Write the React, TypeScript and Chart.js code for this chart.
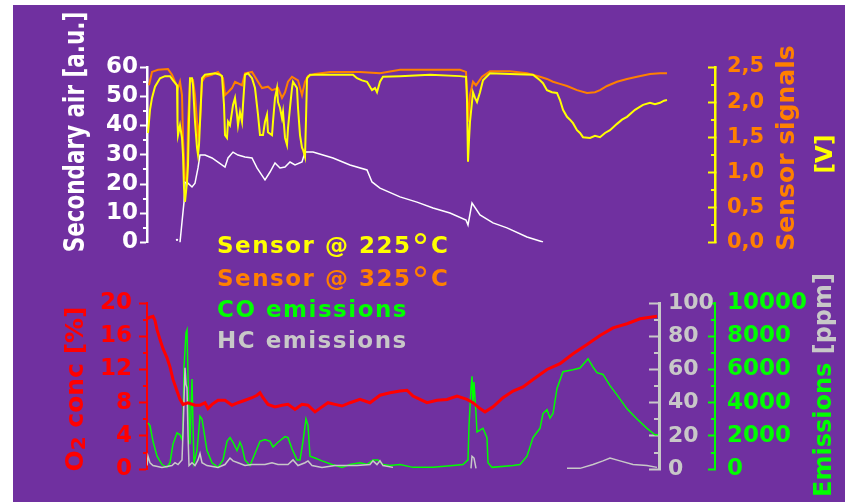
import { useEffect, useRef } from "react";
import { Chart, registerables } from "chart.js";

Chart.register(...registerables);

// ---------------- data (time in s, values in axis units) ----------------
const secondaryAir: [number, number | null][] = [
  [30, 0.9], [31, null], [33, 0], [35, 7.0], [37, 13.8], [38, 20.7], [41, 20.3], [45, 19.0], [48, 20.3],
  [51, 25.5], [53, 29.9], [58, 29.9], [65, 28.9], [71, 27.5], [78, 25.8], [81, 28.9], [86, 30.9],
  [91, 29.9], [98, 29.2], [105, 28.9], [110, 25.5], [118, 21.4], [123, 24.1], [128, 27.2], [133, 25.5],
  [138, 25.8], [143, 27.5], [148, 26.5], [155, 27.5], [158, 30.9], [166, 30.9], [186, 28.9], [203, 26.5],
  [220, 24.8], [225, 20.7], [233, 18.6], [253, 15.6], [270, 13.8], [286, 11.8], [303, 10.1], [319, 7.7],
  [321, 6.0], [325, 13.5], [333, 9.4], [346, 6.7], [360, 5.0], [380, 1.9], [396, 0.2],
];

const sensor225: [number, number][] = [
  [1, 1.56], [3, 1.89], [5, 2.06], [8, 2.22], [13, 2.34], [18, 2.37], [23, 2.37], [26, 2.31], [30, 2.24],
  [30.5, 1.72], [31, 1.53], [33, 1.67], [35, 1.49], [36, 1.25], [37, 0.78], [38, 0.58], [40, 0.86],
  [41, 1.10], [42, 1.75], [43, 2.34], [45, 2.34], [46, 2.24], [48, 1.72], [50, 1.35], [51, 1.25],
  [52, 1.39], [54, 2.03], [55, 2.34], [58, 2.39], [63, 2.40], [68, 2.41], [73, 2.39], [75, 2.37],
  [77, 1.96], [78, 1.53], [80, 1.49], [81, 1.72], [83, 1.67], [85, 1.86], [86, 1.96], [88, 2.06],
  [90, 1.82], [91, 1.67], [93, 1.86], [95, 1.72], [96, 1.96], [98, 2.39], [101, 2.41], [105, 2.34],
  [108, 2.20], [111, 1.82], [113, 1.53], [116, 1.53], [118, 1.72], [120, 1.82], [121, 1.57], [125, 1.53],
  [126, 1.72], [128, 2.06], [130, 2.20], [131, 2.00], [133, 1.92], [135, 1.77], [136, 1.86], [138, 1.49],
  [140, 1.39], [141, 1.63], [143, 1.92], [145, 2.20], [146, 2.29], [150, 2.20], [151, 1.92], [153, 1.53],
  [155, 1.35], [156, 1.32], [158, 1.22], [159, 1.75], [160, 2.34], [163, 2.39], [183, 2.39], [206, 2.39],
  [210, 2.34], [215, 2.31], [220, 2.29], [225, 2.17], [228, 2.20], [230, 2.14], [233, 2.29], [236, 2.36],
  [253, 2.37], [283, 2.39], [313, 2.37], [319, 2.36], [320, 2.03], [321, 1.15], [322, 1.46], [323, 1.72],
  [326, 2.14], [328, 2.06], [330, 2.00], [333, 2.14], [336, 2.31], [343, 2.41], [363, 2.40], [386, 2.39],
  [393, 2.31], [396, 2.27], [400, 2.17], [405, 2.14], [410, 2.13], [413, 2.03], [416, 1.89], [420, 1.79],
  [423, 1.75], [426, 1.70], [430, 1.60], [433, 1.56], [436, 1.50], [443, 1.49], [448, 1.52], [453, 1.50],
  [458, 1.56], [463, 1.60], [470, 1.69], [475, 1.75], [480, 1.79], [488, 1.89], [496, 1.96], [503, 1.99],
  [508, 1.97], [513, 1.99], [517, 2.02], [520, 2.03],
];

const sensor325: [number, number][] = [
  [2, 2.24], [5, 2.43], [11, 2.46], [21, 2.47], [25, 2.39], [28, 2.29], [31, 2.20], [33, 2.29], [35, 2.10],
  [36, 1.49], [38, 0.92], [40, 0.86], [41, 1.72], [43, 2.29], [46, 2.31], [48, 2.10], [51, 1.53], [53, 1.72],
  [55, 2.29], [58, 2.36], [65, 2.39], [71, 2.43], [76, 2.34], [78, 2.10], [81, 2.14], [85, 2.20], [88, 2.29],
  [95, 2.24], [98, 2.41], [105, 2.43], [111, 2.29], [115, 2.20], [121, 2.22], [125, 2.17], [131, 2.20],
  [135, 2.06], [138, 2.14], [141, 2.29], [145, 2.36], [151, 2.31], [155, 2.10], [158, 2.29], [161, 2.37],
  [168, 2.40], [183, 2.43], [213, 2.43], [233, 2.41], [253, 2.46], [283, 2.46], [313, 2.46], [319, 2.43],
  [320, 2.17], [321, 1.72], [323, 2.10], [326, 2.29], [329, 2.24], [335, 2.36], [343, 2.44], [363, 2.44],
  [380, 2.41], [393, 2.36], [400, 2.33], [406, 2.29], [413, 2.26], [420, 2.23], [430, 2.17], [440, 2.13],
  [448, 2.14], [453, 2.17], [460, 2.23], [470, 2.29], [480, 2.33], [490, 2.36], [503, 2.40], [513, 2.41],
  [520, 2.41],
];

const o2Conc: [number, number][] = [
  [0, 18.1], [3, 18.3], [6, 18.4], [8, 17.9], [10, 16.8], [13, 15.6], [16, 14.5], [20, 13.4], [23, 12.3],
  [26, 10.8], [30, 9.4], [33, 8.4], [36, 7.8], [41, 8.0], [48, 7.7], [53, 7.7], [58, 8.0], [61, 7.3],
  [65, 7.8], [71, 8.3], [78, 8.3], [85, 7.7], [91, 8.0], [98, 8.3], [105, 8.6], [110, 8.9], [113, 9.2],
  [116, 8.6], [121, 7.8], [128, 7.5], [135, 7.7], [141, 7.8], [148, 7.2], [155, 7.8], [161, 7.7], [168, 6.9],
  [175, 7.5], [181, 8.0], [188, 7.8], [195, 7.6], [203, 8.0], [213, 8.4], [223, 8.0], [233, 8.9], [243, 9.2],
  [253, 9.4], [260, 9.5], [266, 8.8], [273, 8.4], [280, 8.0], [290, 8.3], [300, 8.4], [310, 8.8], [320, 8.4],
  [326, 8.0], [333, 7.3], [338, 6.9], [346, 7.5], [356, 8.6], [366, 9.4], [376, 9.9], [386, 10.8],
  [400, 12.0], [413, 12.7], [426, 13.9], [440, 15.0], [453, 16.1], [466, 17.0], [480, 17.5], [493, 18.1],
  [510, 18.4],
];

const coEmissions: [number, number][] = [
  [1, 2790], [3, 2630], [6, 1680], [10, 780], [15, 280], [20, 110], [23, 390], [26, 1510], [30, 2180],
  [33, 2070], [35, 1790], [36, 2460], [37, 6150], [39, 8210], [40, 8380], [41, 5590], [43, 1510], [45, 5420],
  [46, 2630], [47, 390], [50, 1120], [53, 3180], [55, 3020], [56, 2630], [60, 1120], [65, 390], [71, 110],
  [76, 560], [80, 1680], [83, 1900], [86, 1620], [90, 1120], [93, 1620], [95, 1340], [98, 560], [103, 220],
  [108, 950], [113, 1680], [118, 1790], [123, 1680], [126, 1340], [131, 1620], [138, 1960], [141, 1900],
  [145, 1230], [150, 560], [153, 560], [156, 1680], [159, 3020], [161, 2630], [163, 780], [168, 670],
  [175, 500], [185, 280], [195, 110], [203, 280], [213, 390], [220, 280], [226, 560], [231, 560], [236, 280],
  [243, 220], [253, 280], [266, 110], [286, 110], [306, 220], [316, 280], [321, 560], [322, 2630],
  [324, 4860], [325, 5590], [326, 3910], [327, 5250], [329, 3350], [330, 2240], [333, 2350], [336, 2460],
  [340, 1900], [341, 390], [345, 110], [366, 220], [373, 280], [380, 780], [386, 1900], [393, 2460],
  [396, 3350], [400, 3580], [403, 3070], [406, 3350], [410, 4860], [416, 5870], [426, 5980], [433, 6090],
  [441, 6650], [446, 6150], [450, 5810], [456, 5700], [463, 5030], [470, 4470], [480, 3630], [490, 3020],
  [500, 2460], [508, 2070], [511, 2070],
];

const hcEmissions: [number, number | null][] = [
  [0, 2.2], [1, 7.8], [3, 3.9], [6, 2.2], [15, 1.1], [25, 2.2], [28, 3.9], [31, 2.8], [35, 5.6], [36, 22],
  [38, 61], [39, 51], [40, 49], [41, 21], [42, 2.2], [45, 3.9], [48, 2.2], [51, 5.6], [53, 9.5], [55, 3.9],
  [60, 2.2], [71, 1.1], [78, 2.8], [83, 6.7], [86, 5.0], [91, 3.9], [98, 2.2], [105, 2.8], [118, 2.8],
  [125, 3.9], [131, 2.8], [141, 2.8], [146, 5.6], [151, 2.2], [158, 3.9], [161, 5.0], [165, 2.2], [175, 1.1],
  [188, 2.2], [198, 2.2], [210, 2.2], [223, 2.8], [226, 5.0], [230, 2.8], [233, 5.0], [236, 2.2], [246, 1.1],
  [247, null], [324, 0.5], [325, 7.8], [327, 6.7], [329, 0.5], [330, null], [420, 0.5], [433, 0.5],
  [446, 2.8], [456, 5.0], [463, 6.7], [473, 5.0], [486, 2.8], [500, 2.2], [510, 1.1],
];

const legendLabels = ["Sensor @ 225°C", "Sensor @ 325°C", "CO emissions", "HC emissions"];
const airTicks = { min: 0, max: 60, step: 10 };
const sensorTicks = { min: 0, max: 2.5, step: 0.5 };
const o2Ticks = { min: 0, max: 20, step: 4 };
const hcTicks = { min: 0, max: 100, step: 20 };
const coTicks = { min: 0, max: 10000, step: 2000 };

// ---------------- styles ----------------
const FONT = "'DejaVu Sans', Verdana, sans-serif";
const PURPLE = "#7030A0";
const YELLOW = "#FFFF00";
const ORANGE = "#FF8000";
const WHITE = "#FFFFFF";
const RED = "#FF0000";
const GREEN = "#00FF00";
const GRAY = "#C8C8C8";
const W = 832;
const H = 497;

const pts = (a: [number, number | null][]) => a.map(([x, y]) => ({ x, y }));

type Seg = { text: string; color: string; size: number; dy?: number };
type TitleItem = { cx: number; cy: number; segs: Seg[]; sx?: number };

const titlesPlugin = (id: string, items: TitleItem[]) => ({
  id,
  afterDraw(chart: any) {
    const ctx = chart.ctx;
    for (const it of items) {
      ctx.save();
      ctx.translate(it.cx, it.cy);
      ctx.scale(it.sx ?? 1, 1);
      ctx.rotate(-Math.PI / 2);
      ctx.textBaseline = "middle";
      ctx.textAlign = "left";
      let total = 0;
      const widths = it.segs.map((s) => {
        ctx.font = `bold ${s.size}px ${FONT}`;
        const w = ctx.measureText(s.text).width;
        total += w;
        return w;
      });
      let x = -total / 2;
      it.segs.forEach((s, i) => {
        ctx.font = `bold ${s.size}px ${FONT}`;
        ctx.fillStyle = s.color;
        ctx.fillText(s.text, x, s.dy ?? 0);
        x += widths[i];
      });
      ctx.restore();
    }
  },
});

type Minor = { id: string; side: "left" | "right"; step: number; len: number; color: string; width: number };
const minorPlugin = (id: string, items: Minor[]) => ({
  id,
  afterDraw(chart: any) {
    const ctx = chart.ctx;
    for (const m of items) {
      const s = chart.scales[m.id];
      const x0 = m.side === "left" ? s.right : s.left;
      const n = Math.round((s.max - s.min) / m.step);
      ctx.save();
      ctx.strokeStyle = m.color;
      ctx.lineWidth = m.width;
      for (let i = 1; i < n; i += 2) {
        const y = Math.round(s.getPixelForValue(s.min + i * m.step));
        ctx.beginPath();
        ctx.moveTo(x0, y);
        ctx.lineTo(x0 - m.len, y);
        ctx.stroke();
      }
      ctx.restore();
    }
  },
});

const yAxis = (o: {
  pos: "left" | "right";
  t: { min: number; max: number; step: number };
  color: string;
  labelColor: string;
  size: number;
  tick: number;
  pad: number;
  width: number;
  border: number;
  weight?: number;
  fmt?: (v: number) => string;
}) => ({
  type: "linear",
  position: o.pos,
  min: o.t.min,
  max: o.t.max,
  weight: o.weight ?? 0,
  afterFit: (s: any) => {
    s.width = o.width;
  },
  ticks: {
    stepSize: o.t.step,
    autoSkip: false,
    color: o.labelColor,
    padding: o.pad,
    font: { family: FONT, size: o.size, weight: "bold" },
    callback: o.fmt ? (v: any) => o.fmt!(Number(v)) : (v: any) => String(v),
  },
  grid: { drawOnChartArea: false, drawTicks: true, tickLength: o.tick, color: o.color, tickWidth: 2 },
  border: { display: true, color: o.color, width: o.border },
});

export default function App() {
  const topRef = useRef<HTMLCanvasElement>(null);
  const botRef = useRef<HTMLCanvasElement>(null);

  useEffect(() => {
    const common = {
      responsive: false,
      animation: false as const,
      events: [],
      plugins: { legend: { display: false }, tooltip: { enabled: false } },
      elements: { point: { radius: 0 }, line: { tension: 0 } },
    };

    const top = new Chart(topRef.current!, {
      type: "line",
      data: {
        datasets: [
          { data: pts(sensor225), borderColor: YELLOW, borderWidth: 2, yAxisID: "ySensor" },
          { data: pts(sensor325), borderColor: ORANGE, borderWidth: 2, yAxisID: "ySensor" },
          {
            data: pts(secondaryAir),
            borderColor: WHITE,
            borderWidth: 1.5,
            yAxisID: "yAir",
            pointRadius: (c: any) => (c.dataIndex === 0 ? 1.2 : 0),
            pointBackgroundColor: WHITE,
            pointBorderWidth: 0,
          },
        ],
      } as any,
      options: {
        ...common,
        layout: { padding: { top: 62, bottom: H - 237.5, left: 0, right: 0 } },
        scales: {
          x: { type: "linear", display: false, min: 0, max: 568 },
          yAir: yAxis({ pos: "left", t: airTicks, color: WHITE, labelColor: WHITE, size: 23, tick: 7, pad: 2, width: 134, border: 2.5 }),
          ySensor: yAxis({
            pos: "right", t: sensorTicks, color: YELLOW, labelColor: ORANGE, size: 21, tick: -7, pad: 19, width: W - 702, border: 2.5,
            fmt: (v) => v.toFixed(1).replace(".", ","),
          }),
        },
      } as any,
      plugins: [
        minorPlugin("topMinor", [
          { id: "yAir", side: "left", step: 5, len: 4, color: WHITE, width: 2 },
          { id: "ySensor", side: "right", step: 0.25, len: 4, color: YELLOW, width: 2 },
        ]),
        titlesPlugin("topTitles", [
          { cx: 63, cy: 127, sx: 1.35, segs: [{ text: "Secondary air [a.u.]", color: WHITE, size: 21.5 }] },
          { cx: 774, cy: 143, segs: [{ text: "Sensor signals", color: ORANGE, size: 25 }] },
          { cx: 813, cy: 149, segs: [{ text: "[V]", color: YELLOW, size: 23 }] },
        ]),
      ],
    });

    const bot = new Chart(botRef.current!, {
      type: "line",
      data: {
        datasets: [
          { data: pts(o2Conc), borderColor: RED, borderWidth: 3, yAxisID: "yO2" },
          { data: pts(hcEmissions), borderColor: GRAY, borderWidth: 1.5, yAxisID: "yHC" },
          { data: pts(coEmissions), borderColor: GREEN, borderWidth: 1.5, yAxisID: "yCO" },
        ],
      } as any,
      options: {
        ...common,
        layout: { padding: { top: 298, bottom: 20, left: 0, right: 0 } },
        scales: {
          x: { type: "linear", display: false, min: 0, max: 512 },
          yO2: yAxis({ pos: "left", t: o2Ticks, color: RED, labelColor: RED, size: 23, tick: 8, pad: 7, width: 134, border: 2 }),
          yHC: yAxis({ pos: "right", t: hcTicks, color: GRAY, labelColor: GRAY, size: 22, tick: -10, pad: 19, width: 56, border: 3, weight: 1 }),
          yCO: yAxis({ pos: "right", t: coTicks, color: GREEN, labelColor: GREEN, size: 23, tick: -7, pad: 19, width: W - 702, border: 2, weight: 2 }),
        },
      } as any,
      plugins: [
        minorPlugin("botMinor", [
          { id: "yO2", side: "left", step: 2, len: 4, color: RED, width: 2 },
          { id: "yHC", side: "right", step: 10, len: 5, color: GRAY, width: 2 },
          { id: "yCO", side: "right", step: 1000, len: 4, color: GREEN, width: 2 },
        ]),
        titlesPlugin("botTitles", [
          {
            cx: 63, cy: 384,
            segs: [
              { text: "O", color: RED, size: 25 },
              { text: "2", color: RED, size: 20, dy: 4 },
              { text: " conc [%]", color: RED, size: 25 },
            ],
          },
          {
            cx: 812, cy: 380,
            segs: [
              { text: "Emissions ", color: GREEN, size: 24 },
              { text: "[ppm]", color: GRAY, size: 24 },
            ],
          },
        ]),
      ],
    });

    return () => {
      top.destroy();
      bot.destroy();
    };
  }, []);

  const legendColors = [YELLOW, ORANGE, GREEN, GRAY];
  const legendBaselines = [248, 281, 312, 343];

  return (
    <div style={{ position: "fixed", left: 13, top: 5, width: W, height: H, background: PURPLE, overflow: "hidden" }}>
      <canvas ref={topRef} width={W} height={H} style={{ position: "absolute", left: 0, top: 0, width: W, height: H }} />
      <canvas ref={botRef} width={W} height={H} style={{ position: "absolute", left: 0, top: 0, width: W, height: H }} />
      {legendLabels.map((lab, i) => {
        const parts = lab.split("°");
        return (
          <div
            key={lab}
            style={{
              position: "absolute",
              left: 204,
              top: legendBaselines[i] - 19.5,
              font: `bold 23px ${FONT}`,
              lineHeight: "23px",
              letterSpacing: "1.5px",
              color: legendColors[i],
              whiteSpace: "nowrap",
            }}
          >
            {parts[0]}
            {parts.length > 1 && (
              <>
                <span style={{ fontSize: 36, lineHeight: 0, position: "relative", top: 6, fontWeight: "normal" }}>°</span>
                {parts[1]}
              </>
            )}
          </div>
        );
      })}
    </div>
  );
}
